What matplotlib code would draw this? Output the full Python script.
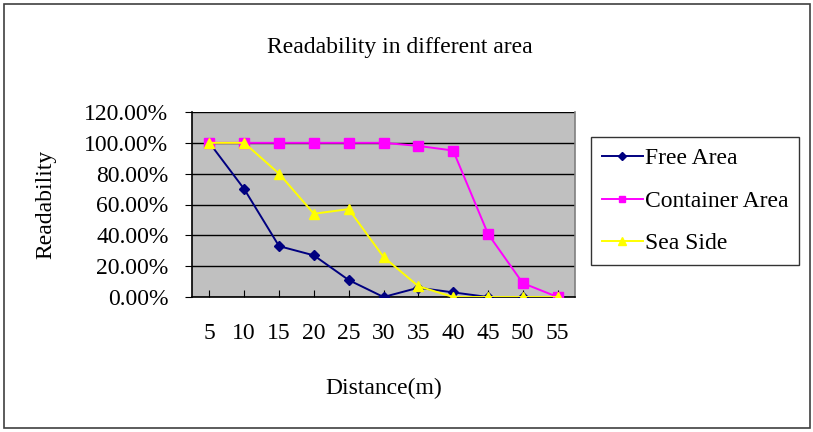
import matplotlib
matplotlib.use("Agg")
import matplotlib.pyplot as plt
from matplotlib.patches import Rectangle
from matplotlib.ticker import FuncFormatter

# data
distances = ["5", "10", "15", "20", "25", "30", "35", "40", "45", "50", "55"]
free_area = [1.00, 0.70, 0.33, 0.27, 0.11, 0.00, 0.06, 0.03, 0.00, 0.00, 0.00]
container_area = [1.00, 1.00, 1.00, 1.00, 1.00, 1.00, 0.98, 0.95, 0.41, 0.09, 0.00]
sea_side = [1.00, 1.00, 0.80, 0.54, 0.57, 0.26, 0.07, 0.00, 0.00, 0.00, 0.00]
y_ticks = [0.0, 0.2, 0.4, 0.6, 0.8, 1.0, 1.2]

plt.rcParams["font.family"] = ["Liberation Serif", "DejaVu Serif"]
fs = 17

fig = plt.figure(figsize=(8.13, 4.32), dpi=100)
ax = fig.add_axes([192 / 813, 1 - 297 / 432, 383 / 813, 185 / 432])
ax.set_facecolor("#C0C0C0")

x = range(len(distances))
ax.plot(x, free_area, color="#000080", marker="D", markersize=5.5, lw=1.4, label="Free Area", zorder=3)
ax.plot(x, container_area, color="#FF00FF", marker="s", markersize=7, lw=1.4, label="Container Area", zorder=3)
ax.plot(x, sea_side, color="#FFFF00", marker="^", markersize=7.5, lw=1.4, label="Sea Side", zorder=3)

ax.set_xlim(-0.5, len(distances) - 0.5)
ax.set_ylim(0, 1.2)
ax.set_yticks(y_ticks)
ax.yaxis.set_major_formatter(FuncFormatter(lambda v, p: "%.2f%%" % (v * 100)))
ax.set_xticks(list(x))
ax.set_xticklabels(distances)
ax.grid(axis="y", color="black", lw=1)
ax.set_axisbelow(True)

for s in ["left", "bottom"]:
    ax.spines[s].set_color("black")
    ax.spines[s].set_linewidth(1.2)
ax.spines["top"].set_visible(False)
ax.spines["right"].set_color("#808080")
ax.spines["right"].set_linewidth(1.2)

ax.tick_params(axis="y", direction="out", length=5, labelsize=fs, pad=12)
ax.tick_params(axis="x", direction="in", length=5, labelsize=fs, pad=19)

ax.set_ylabel("Readability", fontsize=fs, labelpad=20)
ax.set_xlabel("Distance(m)", fontsize=fs, labelpad=24)
fig.text(400 / 813, 1 - 47 / 432, "Readability in different area", ha="center", va="center", fontsize=fs)

leg = ax.legend(loc="center left", bbox_to_anchor=(591 / 813, 1 - 201 / 432),
                bbox_transform=fig.transFigure, fontsize=fs, frameon=True, fancybox=False,
                edgecolor="black", handlelength=1.75, handletextpad=0.1, labelspacing=0.88,
                borderpad=0.45, markerscale=0.7, borderaxespad=0)
leg.get_frame().set_linewidth(1.0)

fig.patches.append(Rectangle((4 / 813, 4 / 432), 806 / 813, 424 / 432, transform=fig.transFigure,
                             fill=False, edgecolor="#404040", lw=1.2))

fig.savefig("out.png", dpi=100)
